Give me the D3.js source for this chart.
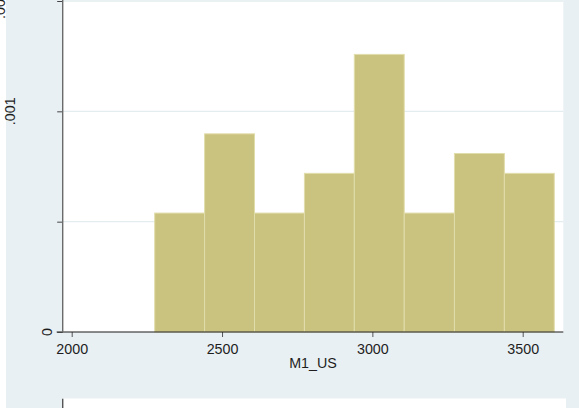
<!DOCTYPE html>
<html>
<head>
<meta charset="utf-8">
<script src="https://cdn.jsdelivr.net/npm/d3@7"></script>
<style>
  html, body { margin: 0; padding: 0; background: #ffffff; }
  svg { display: block; }
  text { font-family: "Liberation Sans", Arial, Helvetica, sans-serif; fill: #1e1e1e; }
</style>
</head>
<body>
<svg id="chart" width="579" height="408"></svg>
<script>
// Histogram of M1_US (density scale)
const binEdges = [2276, 2442, 2608, 2774, 2940, 3106, 3273, 3439, 3605];
const density = [0.000539, 0.000898, 0.000539, 0.000719, 0.001258, 0.000539, 0.000809, 0.000719];

const xTicks = [2000, 2500, 3000, 3500];
const xTickLabels = ["2000", "2500", "3000", "3500"];
const yTicks = [0, 0.0005, 0.001, 0.0015];
const yLabelTicks = [0, 0.001, 0.0015];
const yTickLabels = ["0", ".001", ".0015"];
const xTitle = "M1_US";

const W = 579, H = 408;
const plot = { left: 62.7, right: 563.3, top: 0, bottom: 332 };

const svg = d3.select("#chart");

// graph region background
svg.append("rect").attr("x", 6).attr("y", 0).attr("width", W - 6).attr("height", H)
  .attr("fill", "#e9f0f3");

const x = d3.scaleLinear().domain([2000, 3500]).range([71.7, 522.7]);
const y = d3.scaleLinear().domain([0, 0.0015]).range([plot.bottom, 1]);

// plot region
svg.append("rect")
  .attr("x", plot.left).attr("y", plot.top)
  .attr("width", plot.right - plot.left).attr("height", plot.bottom - plot.top)
  .attr("fill", "#ffffff");

// horizontal grid lines
svg.append("g").selectAll("line")
  .data(yTicks.filter(d => d > 0))
  .join("line")
  .attr("x1", plot.left).attr("x2", plot.right)
  .attr("y1", d => y(d)).attr("y2", d => y(d))
  .attr("stroke", "#e3ecef").attr("stroke-width", 1.3);

// bars
const bins = density.map((d, i) => ({ x0: binEdges[i], x1: binEdges[i + 1], v: d }));
svg.append("g").selectAll("rect")
  .data(bins)
  .join("rect")
  .attr("x", d => x(d.x0))
  .attr("y", d => y(d.v))
  .attr("width", d => x(d.x1) - x(d.x0))
  .attr("height", d => y(0) - y(d.v))
  .attr("fill", "#cac27f")
  .attr("stroke", "#e1ddab")
  .attr("stroke-width", 1);

// x axis
const xAxis = d3.axisBottom(x)
  .tickValues(xTicks)
  .tickFormat((d, i) => xTickLabels[i])
  .tickSize(5)
  .tickPadding(7)
  .tickSizeOuter(0);
const gx = svg.append("g").attr("transform", `translate(0,${plot.bottom})`).call(xAxis);
gx.select(".domain").remove();
gx.selectAll(".tick line").attr("stroke", "#555").attr("stroke-width", 1);
gx.selectAll(".tick text").attr("font-size", "14.3px").style("font-family", "Liberation Sans, Arial, sans-serif").attr("fill", "#1e1e1e");
svg.append("line")
  .attr("x1", plot.left - 6).attr("x2", plot.right)
  .attr("y1", plot.bottom).attr("y2", plot.bottom)
  .attr("stroke", "#1a1a1a").attr("stroke-width", 1.2);

// y axis
const yAxis = d3.axisLeft(y).tickValues(yTicks).tickFormat("").tickSize(5.5).tickSizeOuter(0);
const gy = svg.append("g").attr("transform", `translate(${plot.left},0)`).call(yAxis);
gy.select(".domain").remove();
gy.selectAll(".tick line").attr("stroke", "#444").attr("stroke-width", 1);
svg.append("line")
  .attr("x1", plot.left).attr("x2", plot.left)
  .attr("y1", 0).attr("y2", plot.bottom)
  .attr("stroke", "#6a6a6a").attr("stroke-width", 1.4);

// rotated y tick labels; longer labels sit further from the axis
const gyl = svg.append("g");
yLabelTicks.forEach((v, i) => {
  const t = gyl.append("text")
    .attr("font-size", "14.3px")
    .attr("text-anchor", "middle")
    .text(yTickLabels[i]);
  const len = t.node().getComputedTextLength();
  const base = Math.max(66.5 - 1.85 * len, 5);
  t.attr("transform", `translate(${base},${y(v)}) rotate(-90)`);
});

// x axis title
svg.append("text")
  .attr("x", (plot.left + plot.right) / 2)
  .attr("y", 368)
  .attr("text-anchor", "middle")
  .attr("font-size", "14.3px")
  .text(xTitle);

// top edge of the next panel below
svg.append("rect")
  .attr("x", 63.3).attr("y", 398.5)
  .attr("width", 566 - 63.3).attr("height", H - 398.5)
  .attr("fill", "#ffffff");
svg.append("line")
  .attr("x1", plot.left).attr("x2", plot.left)
  .attr("y1", 398.7).attr("y2", H)
  .attr("stroke", "#555").attr("stroke-width", 1.4);
</script>
</body>
</html>
